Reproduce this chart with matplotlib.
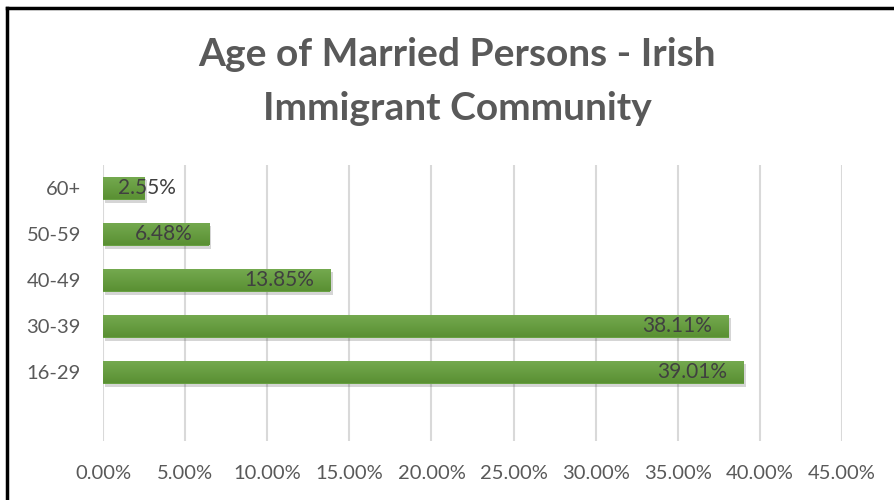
import matplotlib
matplotlib.use("Agg")
import matplotlib.pyplot as plt
import matplotlib.patheffects as pe
from matplotlib.lines import Line2D
from matplotlib.colors import LinearSegmentedColormap
import numpy as np

categories = ["", "16-29", "30-39", "40-49", "50-59", "60+"]
values = [None, 39.01, 38.11, 13.85, 6.48, 2.55]
labels = ["", "39.01%", "38.11%", "13.85%", "6.48%", "2.55%"]
xticks = [0, 5, 10, 15, 20, 25, 30, 35, 40, 45]
xtick_labels = ["0.00%", "5.00%", "10.00%", "15.00%", "20.00%", "25.00%",
                "30.00%", "35.00%", "40.00%", "45.00%"]
title_lines = ["Age of Married Persons - Irish", "Immigrant Community"]

FONT = "Lato"
GREY = "#595959"

fig = plt.figure(figsize=(8.95, 5.0), dpi=100)
ax = fig.add_axes([103/895, 59/500, (842-103)/895, (441-165)/500])

ypos = np.arange(len(categories))
vals = [v if v is not None else 0 for v in values]
bars = ax.barh(ypos, vals, height=0.5, color="#68A142", zorder=3,
               path_effects=[pe.SimplePatchShadow(offset=(1.5, -2.5), alpha=0.22,
                                                  shadow_rgbFace="#404040"),
                             pe.Normal()])

# vertical gradient overlay (light on top, darker at bottom)
grad = np.linspace(1, 0, 64).reshape(-1, 1)
cmap = LinearSegmentedColormap.from_list("g", ["#75AA50", "#5A9033"])
for b, v in zip(bars, values):
    if v is None:
        continue
    x0, y0 = b.get_x(), b.get_y()
    w, h = b.get_width(), b.get_height()
    im = ax.imshow(grad, extent=(x0, x0 + w, y0, y0 + h), cmap=cmap, aspect="auto",
                   origin="lower", zorder=3.5, interpolation="bilinear")
    im.set_clip_path(b)

ax.set_xlim(0, 45)
ax.set_ylim(-0.5, len(categories) - 0.5)
ax.set_aspect("auto")

for y, v, lab in zip(ypos, values, labels):
    if v is None:
        continue
    if v < 5:
        ax.annotate(lab, (0, y), xytext=(11, 0), textcoords="offset points",
                    ha="left", va="center", fontsize=15, color="#404040",
                    family=FONT, zorder=5)
    else:
        ax.annotate(lab, (v, y), xytext=(-12, 0), textcoords="offset points",
                    ha="right", va="center", fontsize=15, color="#404040",
                    family=FONT, zorder=5)

ax.set_xticks(xticks)
ax.set_xticklabels(xtick_labels)
ax.set_yticks(ypos)
ax.set_yticklabels(categories)
ax.tick_params(axis="both", length=0, labelsize=14.5, labelcolor=GREY)
ax.tick_params(axis="x", pad=17)
ax.tick_params(axis="y", pad=16)
for t in ax.get_xticklabels() + ax.get_yticklabels():
    t.set_family(FONT)

ax.grid(axis="x", color="#D9D9D9", linewidth=1.5, zorder=0)
ax.set_axisbelow(True)
for s in ax.spines.values():
    s.set_visible(False)

fig.text(457/895, 1 - 55/500, title_lines[0], ha="center", va="center", fontsize=28,
         fontweight="bold", color=GREY, family=FONT)
fig.text(457/895, 1 - 108/500, title_lines[1], ha="center", va="center", fontsize=28,
         fontweight="bold", color=GREY, family=FONT)

# border
fig.add_artist(Line2D([7/895, 7/895], [0, 1 - 8/500], color="black", lw=2.5,
                      transform=fig.transFigure))
fig.add_artist(Line2D([7/895, 1], [1 - 8/500, 1 - 8/500], color="black", lw=2.5,
                      transform=fig.transFigure))

fig.savefig("out.png", dpi=100)
